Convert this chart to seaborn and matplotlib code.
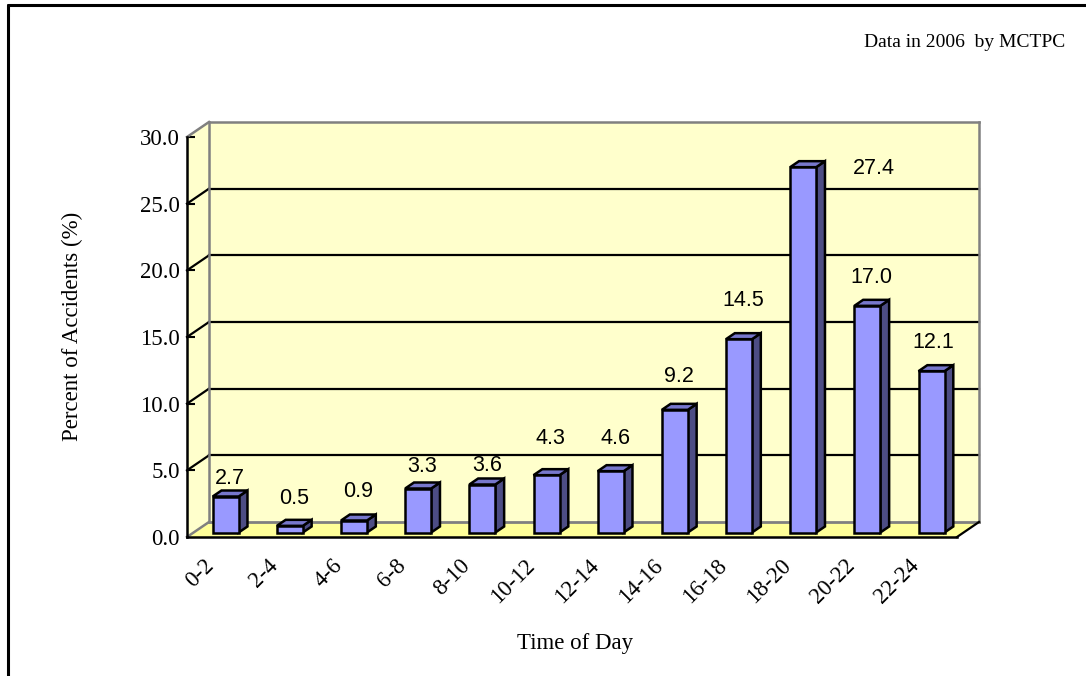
import numpy as np
import pandas as pd
import seaborn as sns
import matplotlib
matplotlib.use("Agg")
import matplotlib.pyplot as plt
from matplotlib.patches import Polygon
from matplotlib.lines import Line2D
from matplotlib.transforms import Affine2D, IdentityTransform

# ---- data -------------------------------------------------------------
time_slots = ["0-2", "2-4", "4-6", "6-8", "8-10", "10-12",
              "12-14", "14-16", "16-18", "18-20", "20-22", "22-24"]
accident_pct = [2.7, 0.5, 0.9, 3.3, 3.6, 4.3, 4.6, 9.2, 14.5, 27.4, 17.0, 12.1]
y_ticks = [0, 5, 10, 15, 20, 25, 30]
y_tick_labels = ["0.0", "5.0", "10.0", "15.0", "20.0", "25.0", "30.0"]

df = pd.DataFrame({"slot": time_slots, "pct": accident_pct})

# ---- style ------------------------------------------------------------
sns.set_theme(style="white")
plt.rcParams["font.family"] = ["Liberation Serif", "DejaVu Serif"]

W, H, DPI = 1086, 676, 100
WALL = "#FFFFCC"
FLOOR = "#FFFF99"
EDGE_GREY = "#808080"
FRONT = "#9999FF"
SIDE = "#4D4D84"
TOP = "#7777CC"
DEPTH = np.array([22.0, 15.0])      # screen offset of the back wall (px)
BAR_D0, BAR_D1 = 0.3, 0.7           # bar placement inside the depth

fig = plt.figure(figsize=(W / DPI, H / DPI), dpi=DPI)
fig.patch.set_facecolor("white")
ax = fig.add_axes([187 / W, 1 - 537 / H, 770 / W, 400 / H])
ax.set_facecolor("none")

# front faces of the bars
sns.barplot(data=df, x="slot", y="pct", color=FRONT, saturation=1,
            width=0.405, edgecolor="black", linewidth=1.8, ax=ax, zorder=4)
bars = list(ax.containers[0])

n = len(time_slots)
ax.set_xlim(-0.5, n - 0.5)
ax.set_ylim(0, 30)

ident = IdentityTransform()


def proj(x, y, d):
    """Data point (x, y) pushed back by depth fraction d, in display px."""
    p = ax.transData.transform((x, y))
    return p + d * DEPTH


def add_poly(pts, fc, ec="none", lw=0, z=1):
    poly = Polygon(np.array(pts), closed=True, facecolor=fc, edgecolor=ec,
                   linewidth=lw, transform=ident, clip_on=False, zorder=z,
                   joinstyle="miter")
    ax.add_artist(poly)


def add_line(p0, p1, color, lw, z=2):
    ln = Line2D([p0[0], p1[0]], [p0[1], p1[1]], color=color, linewidth=lw,
                transform=ident, clip_on=False, zorder=z,
                solid_capstyle="projecting")
    ax.add_artist(ln)


x0, x1 = -0.5, n - 0.5
# walls and floor
add_poly([proj(x0, 0, 1), proj(x1, 0, 1), proj(x1, 30, 1), proj(x0, 30, 1)], WALL, z=0.5)
add_poly([proj(x0, 0, 0), proj(x0, 0, 1), proj(x0, 30, 1), proj(x0, 30, 0)], WALL, z=0.5)
add_poly([proj(x0, 0, 0), proj(x1, 0, 0), proj(x1, 0, 1), proj(x0, 0, 1)], FLOOR, z=0.6)

# gridlines on back wall and side wall
for yv in y_ticks[1:-1]:
    add_line(proj(x0, yv, 1), proj(x1, yv, 1), "black", 1.6, z=1)
    add_line(proj(x0, yv, 0), proj(x0, yv, 1), "black", 1.6, z=1)

# grey outline of the box
add_line(proj(x0, 0, 1), proj(x0, 30, 1), EDGE_GREY, 1.8, z=1.2)
add_line(proj(x0, 30, 1), proj(x1, 30, 1), EDGE_GREY, 1.8, z=1.2)
add_line(proj(x1, 30, 1), proj(x1, 0, 1), EDGE_GREY, 1.8, z=1.2)
add_line(proj(x0, 0, 1), proj(x1, 0, 1), EDGE_GREY, 2.0, z=1.2)
add_line(proj(x0, 30, 0), proj(x0, 30, 1), EDGE_GREY, 1.8, z=1.2)
add_line(proj(x0, 0, 0), proj(x0, 0, 1), EDGE_GREY, 1.8, z=1.2)
add_line(proj(x1, 0, 0), proj(x1, 0, 1), "black", 1.6, z=1.2)

# shift bar fronts into the box and add side / top faces
shift = Affine2D().translate(*(BAR_D0 * DEPTH))
for patch in bars:
    bx, bw, bh = patch.get_x(), patch.get_width(), patch.get_height()
    patch.set_transform(ax.transData + shift)
    patch.set_clip_on(False)
    r = bx + bw
    add_poly([proj(r, 0, BAR_D0), proj(r, bh, BAR_D0),
              proj(r, bh, BAR_D1), proj(r, 0, BAR_D1)],
             SIDE, ec="black", lw=1.8, z=3.5)
    add_poly([proj(bx, bh, BAR_D0), proj(r, bh, BAR_D0),
              proj(r, bh, BAR_D1), proj(bx, bh, BAR_D1)],
             TOP, ec="black", lw=1.8, z=3.5)

# value labels (offsets in px: sideways, and above the bar's mid-depth top)
label_dx = [0, 0, 0, 0, 0, 0, 0, 0, 0, 66, 0, -3]
label_up = [15.5, 24, 26, 19.5, 16, 34, 30, 30, 36, -4, 25, 26]
for i, v in enumerate(accident_pct):
    off = Affine2D().translate(0.5 * DEPTH[0] + label_dx[i],
                               0.5 * DEPTH[1] + label_up[i])
    ax.text(i, v, f"{v:.1f}", transform=ax.transData + off,
            ha="center", va="center", fontsize=15.5,
            family=["Liberation Sans", "DejaVu Sans"], color="black", zorder=6)

# axes / spines
for side in ("top", "right"):
    ax.spines[side].set_visible(False)
for side in ("left", "bottom"):
    ax.spines[side].set_color("black")
    ax.spines[side].set_linewidth(1.8)
    ax.spines[side].set_zorder(5)

ax.set_yticks(y_ticks, y_tick_labels)
ax.tick_params(axis="y", direction="in", length=5.8, width=1.5,
               color="black", pad=5, labelsize=16.5, left=True,
               labelcolor="black")
ax.set_xticks(range(n), [""] * n)
ax.tick_params(axis="x", which="major", length=0, pad=0)
ax.set_xticks(np.arange(0.5, n - 0.5, 1.0), minor=True)
ax.tick_params(axis="x", which="minor", direction="in", length=5.8,
               width=1.5, color="black", bottom=True)

# rotated category labels
lab_off = Affine2D().translate(-16, -18)
for i, s in enumerate(time_slots):
    ax.text(i, 0, s, transform=ax.transData + lab_off, rotation=45,
            rotation_mode="anchor", ha="right", va="top", fontsize=16.5,
            color="black")

ax.set_xlabel("")
ax.set_ylabel("")
fig.text(575 / W, 1 - 643 / H, "Time of Day", ha="center", va="center",
         fontsize=16.5, color="black")
fig.text(72 / W, 1 - 326 / H, "Percent of Accidents (%)", ha="center",
         va="center", rotation=90, fontsize=16.5, color="black")
fig.text(1065 / W, 1 - 47 / H, "Data in 2006  by MCTPC", ha="right",
         va="baseline", fontsize=14, color="black")

# outer frame (top and left edges)
fig.add_artist(Line2D([7.5 / W, 1.0], [1 - 5 / H, 1 - 5 / H], color="black",
                      linewidth=2.2, transform=fig.transFigure))
fig.add_artist(Line2D([7.5 / W, 7.5 / W], [0.0, 1 - 5 / H], color="black",
                      linewidth=2.2, transform=fig.transFigure))

fig.savefig("out.png", dpi=DPI)
